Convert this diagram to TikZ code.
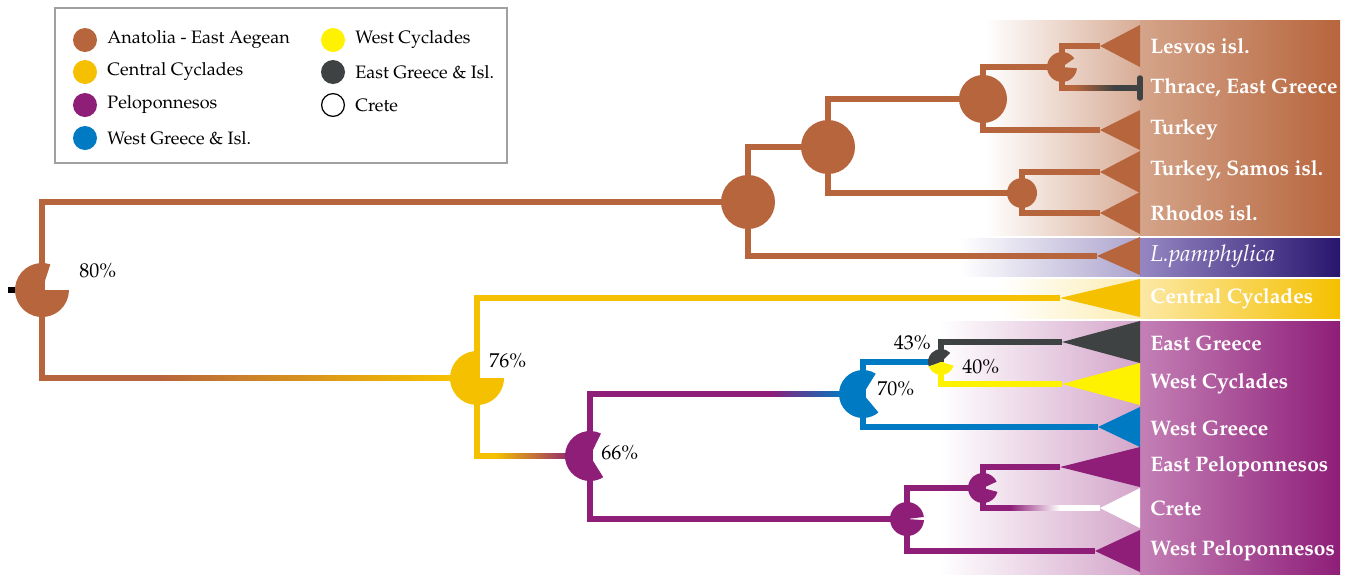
\documentclass[tikz,border=0pt]{standalone}
\usepackage[T1]{fontenc}
\usepackage{mathpazo}
\usetikzlibrary{calc}

\definecolor{anatolia}{RGB}{183,101,60}
\definecolor{ccyclades}{RGB}{245,192,0}
\definecolor{pelopon}{RGB}{142,30,120}
\definecolor{wgreece}{RGB}{0,122,194}
\definecolor{wcyclades}{RGB}{255,242,0}
\definecolor{egreece}{RGB}{62,66,66}
\definecolor{pamphyl}{RGB}{40,22,110}
\definecolor{legframe}{RGB}{160,160,160}

\tikzset{
  branch/.style={line width=2.75pt, line join=miter},
  tiplabel/.style={anchor=west, text=white, inner sep=0pt, font=\fontsize{10.5}{12}\selectfont\bfseries},
  pct/.style={inner sep=0pt, font=\fontsize{10}{12}\selectfont},
  legtext/.style={anchor=west, inner sep=0pt, font=\fontsize{9}{11}\selectfont},
  legdot/.style={circle, minimum size=12pt, inner sep=0pt},
}

% pie slice: centre, radius, start, end, colour
\newcommand{\pieslice}[5]{\fill[#5] (#1) -- ++(#3:#2) arc (#3:#4:#2) -- cycle;}
% collapsed clade: tip, colour, half height
\newcommand{\clade}[3]{\fill[#2] (#1) -- ($(#1 -| cladebase)+(0,#3)$) -- ($(#1 -| cladebase)+(0,-#3)$) -- cycle;}
% colour change along a horizontal branch
\newcommand{\fadeseg}[5]{\shade[left color=#4, right color=#5] (#1,#3+2.75) rectangle (#2,#3-2.75);}

\begin{document}
\begin{tikzpicture}[x=0.5pt, y=0.5pt]
  \useasboundingbox (0,0) rectangle (1351,-574);

  %background bands behind the clades
  \shade[left color=white, right color={rgb,255:red,216;green,172;blue,150}] (985,-20) rectangle (1140,-235);
  \shade[left color={rgb,255:red,212;green,164;blue,138}, right color=anatolia] (1140,-20) rectangle (1340,-235);
  \shade[left color=white, right color={rgb,255:red,172;green,163;blue,205}] (960,-238) rectangle (1140,-276);
  \shade[left color={rgb,255:red,150;green,135;blue,195}, right color=pamphyl] (1140,-238) rectangle (1340,-276);
  \shade[left color=white, right color={rgb,255:red,252;green,236;blue,175}] (1000,-279) rectangle (1140,-318);
  \shade[left color={rgb,255:red,252;green,232;blue,165}, right color=ccyclades] (1140,-279) rectangle (1340,-318);
  \shade[left color=white, right color={rgb,255:red,212;green,165;blue,202}] (940,-321) rectangle (1140,-574);
  \shade[left color={rgb,255:red,196;green,128;blue,182}, right color=pelopon] (1140,-321) rectangle (1340,-574);

  %internal nodes
  \coordinate (root) at (42,-290);
  \coordinate (nAna) at (748,-202);
  \coordinate (nAnaB) at (828,-147);
  \coordinate (nAnaC) at (983,-99);
  \coordinate (nLes) at (1062,-67);
  \coordinate (nSam) at (1022,-193);
  \coordinate (nCyc) at (477,-378);
  \coordinate (nPel) at (590,-456);
  \coordinate (nWG) at (863,-394);
  \coordinate (nEG) at (941,-362);
  \coordinate (nPelB) at (907,-519);
  \coordinate (nPelC) at (983,-488);

  %tips
  \coordinate (cladebase) at (1140,0);
  \coordinate (tLes) at (1100,-46);
  \coordinate (tThr) at (1140,-88);
  \coordinate (tTur) at (1100,-130);
  \coordinate (tSam) at (1100,-172);
  \coordinate (tRho) at (1100,-213);
  \coordinate (tPam) at (1097,-256);
  \coordinate (tCC) at (1060,-298);
  \coordinate (tEG) at (1062,-342);
  \coordinate (tWC) at (1062,-384);
  \coordinate (tWG) at (1098,-427);
  \coordinate (tEP) at (1060,-467);
  \coordinate (tCr) at (1100,-508);
  \coordinate (tWP) at (1095,-551);

  %collapsed clades
  \clade{tLes}{anatolia}{21}
  \clade{tTur}{anatolia}{20}
  \clade{tSam}{anatolia}{21}
  \clade{tRho}{anatolia}{21}
  \clade{tPam}{anatolia}{19}
  \clade{tCC}{ccyclades}{19}
  \clade{tEG}{egreece}{21}
  \clade{tWC}{wcyclades}{21}
  \clade{tWG}{wgreece}{20}
  \clade{tEP}{pelopon}{20}
  \clade{tCr}{white}{20}
  \clade{tWP}{pelopon}{21}

  %branches
  \draw[black, line width=2.75pt] (root) -- ++(-34,0);
  \draw[branch, anatolia] (root) |- (nAna);
  \draw[branch, anatolia] (root) |- (nCyc);
  \draw[branch, anatolia] (nAna) |- (nAnaB);
  \draw[branch, anatolia] (nAna) |- (tPam);
  \draw[branch, anatolia] (nAnaB) |- (nAnaC);
  \draw[branch, anatolia] (nAnaB) |- (nSam);
  \draw[branch, anatolia] (nAnaC) |- (nLes);
  \draw[branch, anatolia] (nAnaC) |- (tTur);
  \draw[branch, anatolia] (nLes) |- (tLes);
  \draw[branch, anatolia] (nLes) |- (tThr);
  \draw[branch, anatolia] (nSam) |- (tSam);
  \draw[branch, anatolia] (nSam) |- (tRho);
  \draw[branch, ccyclades] (nCyc) |- (tCC);
  \draw[branch, ccyclades] (nCyc) |- (nPel);
  \draw[branch, pelopon] (nPel) |- (nWG);
  \draw[branch, pelopon] (nPel) |- (nPelB);
  \draw[branch, wgreece] (nWG) |- (nEG);
  \draw[branch, wgreece] (nWG) |- (tWG);
  \draw[branch, egreece] (nEG) |- (tEG);
  \draw[branch, wcyclades] (nEG) |- (tWC);
  \draw[branch, pelopon] (nPelB) |- (nPelC);
  \draw[branch, pelopon] (nPelB) |- (tWP);
  \draw[branch, pelopon] (nPelC) |- (tEP);
  \draw[branch, pelopon] (nPelC) |- (tCr);

  %colour changes along branches
  \fadeseg{160}{445}{-378}{anatolia}{ccyclades}
  \fill[ccyclades] (445,-375.25) rectangle (470,-380.75);
  \shade[left color=ccyclades, middle color=anatolia, right color=pelopon] (495,-453.25) rectangle (575,-458.75);
  \fadeseg{770}{845}{-394}{pelopon}{wgreece}
  \fill[wgreece] (845,-391.25) rectangle (863,-396.75);
  \fadeseg{1075}{1115}{-88}{anatolia}{egreece}
  \fill[egreece] (1115,-85.25) rectangle (1140,-90.75);
  \fadeseg{1010}{1060}{-508}{pelopon}{white}
  \fill[white] (1060,-505.25) rectangle (1100,-510.75);
  \draw[egreece, line width=2.75pt, line cap=round] (1140,-78) -- (1140,-98);

  %ancestral areas
  \pieslice{root}{27}{72}{360}{anatolia}
  \fill[anatolia] (nAna) circle (27);
  \fill[anatolia] (nAnaB) circle (27);
  \fill[anatolia] (nAnaC) circle (24);
  \fill[anatolia] (nSam) circle (15);
  \pieslice{nLes}{15}{35}{355}{anatolia}
  \pieslice{nCyc}{27}{86}{360}{ccyclades}
  \pieslice{nPel}{25}{64}{302}{pelopon}
  \pieslice{nWG}{24}{58}{310}{wgreece}
  \pieslice{nEG}{13}{45}{200}{egreece}
  \pieslice{nEG}{13}{200}{344}{wcyclades}
  \pieslice{nPelB}{17}{7}{356}{pelopon}
  \pieslice{nPelC}{15}{25}{345}{pelopon}

  %support values
  \node[pct, anchor=west] (pRoot) at (79,-271) {80\%};
  \node[pct, anchor=west] (pCyc) at (489,-361) {76\%};
  \node[pct, anchor=west] (pPel) at (601,-453) {66\%};
  \node[pct, anchor=west] (pWG) at (877,-389) {70\%};
  \node[pct, anchor=east] (pEGa) at (931,-343) {43\%};
  \node[pct, anchor=west] (pEGb) at (962,-367) {40\%};

  %clade names
  \node[tiplabel] (lLes) at (1150,-46) {Lesvos isl.};
  \node[tiplabel] (lThr) at (1150,-88) {Thrace, East Greece};
  \node[tiplabel] (lTur) at (1150,-130) {Turkey};
  \node[tiplabel] (lSam) at (1150,-171) {Turkey, Samos isl.};
  \node[tiplabel] (lRho) at (1150,-213) {Rhodos isl.};
  \node[tiplabel, font=\fontsize{11.5}{13}\selectfont\itshape] (lPam) at (1150,-256) {L.pamphylica};
  \node[tiplabel] (lCC) at (1150,-299) {Central Cyclades};
  \node[tiplabel] (lEG) at (1150,-343) {East Greece};
  \node[tiplabel] (lWC) at (1150,-384) {West Cyclades};
  \node[tiplabel] (lWG) at (1150,-428) {West Greece};
  \node[tiplabel] (lEP) at (1150,-467) {East Peloponnesos};
  \node[tiplabel] (lCr) at (1150,-508) {Crete};
  \node[tiplabel] (lWP) at (1150,-551) {West Peloponnesos};

  %legend
  \draw[legframe, line width=1pt, fill=white] (55,-8) rectangle (507,-163);
  \node[legdot, fill=anatolia] (kAna) at (85,-40) {};
  \node[legdot, fill=ccyclades] (kCC) at (85,-72) {};
  \node[legdot, fill=pelopon] (kPel) at (85,-105) {};
  \node[legdot, fill=wgreece] (kWG) at (85,-138) {};
  \node[legdot, fill=wcyclades] (kWC) at (333,-40) {};
  \node[legdot, fill=egreece] (kEG) at (333,-72) {};
  \node[legdot, draw=black, line width=0.6pt, fill=white, minimum size=11.4pt] (kCr) at (333,-105) {};
  \node[legtext] at ([xshift=11pt]kAna.center) {Anatolia - East Aegean};
  \node[legtext] at ([xshift=11pt]kCC.center) {Central Cyclades};
  \node[legtext] at ([xshift=11pt]kPel.center) {Peloponnesos};
  \node[legtext] at ([xshift=11pt]kWG.center) {West Greece \& Isl.};
  \node[legtext] at ([xshift=11pt]kWC.center) {West Cyclades};
  \node[legtext] at ([xshift=11pt]kEG.center) {East Greece \& Isl.};
  \node[legtext] at ([xshift=11pt]kCr.center) {Crete};
\end{tikzpicture}
\end{document}
